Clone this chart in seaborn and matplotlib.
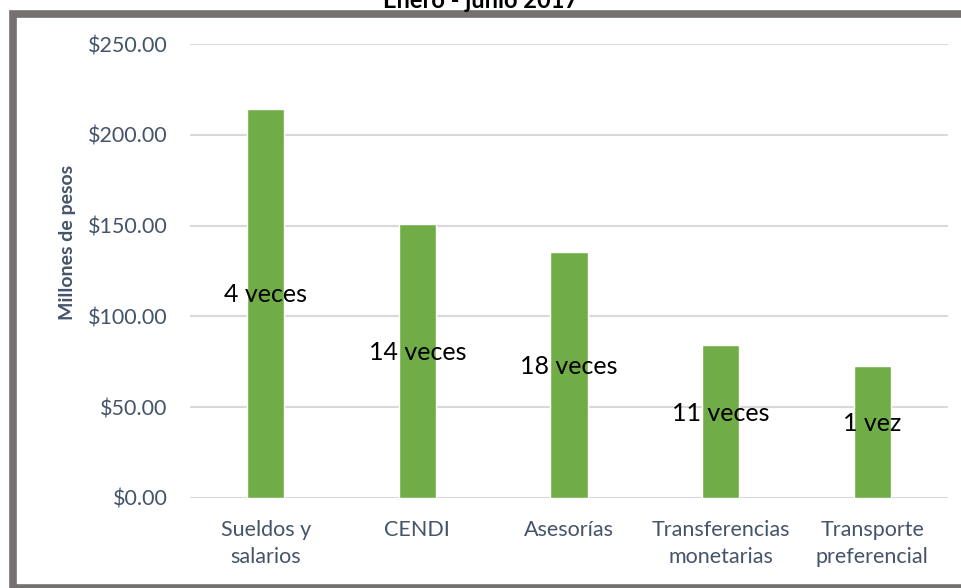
import pandas as pd
import seaborn as sns
import matplotlib.pyplot as plt
from matplotlib.patches import Rectangle
from matplotlib.ticker import FuncFormatter

categorias = ["Sueldos y\nsalarios", "CENDI", "Asesorías", "Transferencias\nmonetarias", "Transporte\npreferencial"]
montos = [214.5, 151.0, 135.5, 84.3, 72.7]
etiquetas = ["4 veces", "14 veces", "18 veces", "11 veces", "1 vez"]

df = pd.DataFrame({"categoria": categorias, "monto": montos})

sns.set_theme(style="white")
plt.rcParams['font.family'] = ['Lato', 'DejaVu Sans']

azul = "#44546A"

fig = plt.figure(figsize=(9.61, 5.88), dpi=100)
ax = fig.add_axes([0.1977, 0.1531, 0.7888, 0.7719])

sns.barplot(data=df, x="categoria", y="monto", color="#70AD47", width=0.245,
            saturation=1, ax=ax, zorder=3)

## data labels
for i, (m, t) in enumerate(zip(montos, etiquetas)):
    ax.annotate(t, (i, m / 2), xytext=(0, 6), textcoords="offset points",
                ha="center", va="center", fontsize=18, color="black", zorder=4)

ax.set_ylim(0, 250)
ax.set_yticks([0, 50, 100, 150, 200, 250])
ax.yaxis.set_major_formatter(FuncFormatter(lambda v, p: f"${v:,.2f}"))
ax.set_xlim(-0.5, 4.5)
ax.set_xticks(range(len(categorias)), categorias, linespacing=1.45)
ax.grid(axis="y", color="#D9D9D9", linewidth=1.5, zorder=0)
ax.set_axisbelow(True)
for s in ax.spines.values():
    s.set_visible(False)
ax.tick_params(axis="y", length=0, pad=16, labelsize=15.5, labelcolor=azul)
ax.tick_params(axis="x", length=0, pad=16, labelsize=15.5, labelcolor=azul)
ax.set_xlabel("")
ax.set_ylabel("")

fig.text(67 / 961, 0.588, "Millones de pesos", rotation=90, ha="center", va="center",
         fontsize=14, fontweight="bold", color=azul)

## title (cut at top like the original)
fig.text(0.5, 1.0, "Enero - junio 2017", ha="center", va="center",
         fontsize=17, fontweight="bold", color="black")

## gray frame
fig.add_artist(Rectangle((12.5 / 961, 1 - 588 / 588), 1.2, (588 - 13.5) / 588,
                         transform=fig.transFigure, fill=False, edgecolor="#767171",
                         linewidth=5.5, clip_on=False))

fig.savefig("out.png", dpi=100)
